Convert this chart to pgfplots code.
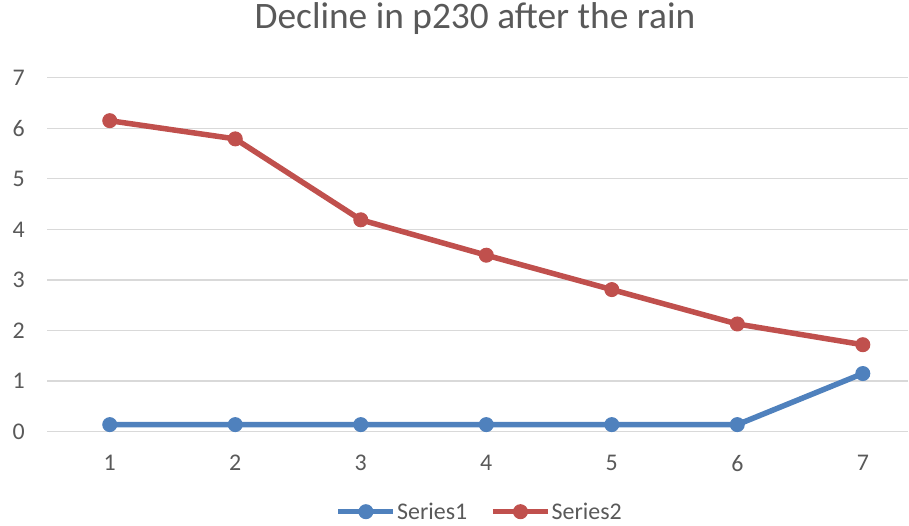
\documentclass[border=0pt]{standalone}
\usepackage{pgfplots}
\pgfplotsset{compat=1.18}
\usepackage{fontspec}
\setmainfont{Carlito}
\definecolor{sblue}{HTML}{4F81BD}
\definecolor{sred}{HTML}{C0504D}
\definecolor{txt}{HTML}{595959}
\definecolor{gridc}{HTML}{D9D9D9}
\begin{document}
\begin{tikzpicture}
\useasboundingbox (0,0) rectangle (909bp,526bp);
\begin{axis}[
  at={(47bp,94.3bp)}, anchor=south west,
  scale only axis, width=861bp, height=354bp,
  xmin=0.5, xmax=7.36, ymin=0, ymax=7,
  xtick={1,...,7}, ytick={0,...,7},
  axis line style={draw=none},
  major tick length=0pt,
  xmajorgrids=false, ymajorgrids=true,
  y grid style={color=gridc, line width=1.3bp},
  /pgf/number format/assume math mode=true,
  tick label style={font=\fontsize{24}{27}\selectfont, text=txt, inner sep=0pt},
  xticklabel style={anchor=north, yshift=-23bp},
  yticklabel style={anchor=east, xshift=-22bp},
  title={Decline in p230 after the rain},
  title style={font=\fontsize{37.5}{42}\selectfont, text=txt, anchor=base, at={(axis description cs:0.497,1)}, yshift=43bp},
  legend columns=2,
  legend style={draw=none, fill=none, at={(axis description cs:0.502,-0.226)}, anchor=center,
    font=\fontsize{24}{27}\selectfont, text=txt, inner sep=0pt,
    nodes={inner sep=1bp},
    /tikz/every even column/.append style={column sep=22bp}},
  legend image code/.code={\draw[#1, mark repeat=2, mark phase=2] plot coordinates {(0bp,0bp) (27.5bp,0bp) (55bp,0bp)};},
  clip=false,
]
\addplot[sblue, line width=5.5bp, mark=*, mark size=7bp, mark options={solid, line width=1bp}] coordinates {
(1,0.14) (2,0.14) (3,0.14) (4,0.14) (5,0.14) (6,0.14) (7,1.15)};
\addlegendentry{Series1}
\addplot[sred, line width=5.5bp, mark=*, mark size=7bp, mark options={solid, line width=1bp}] coordinates {
(1,6.15) (2,5.79) (3,4.19) (4,3.49) (5,2.81) (6,2.13) (7,1.72)};
\addlegendentry{Series2}
\end{axis}
\end{tikzpicture}
\end{document}
